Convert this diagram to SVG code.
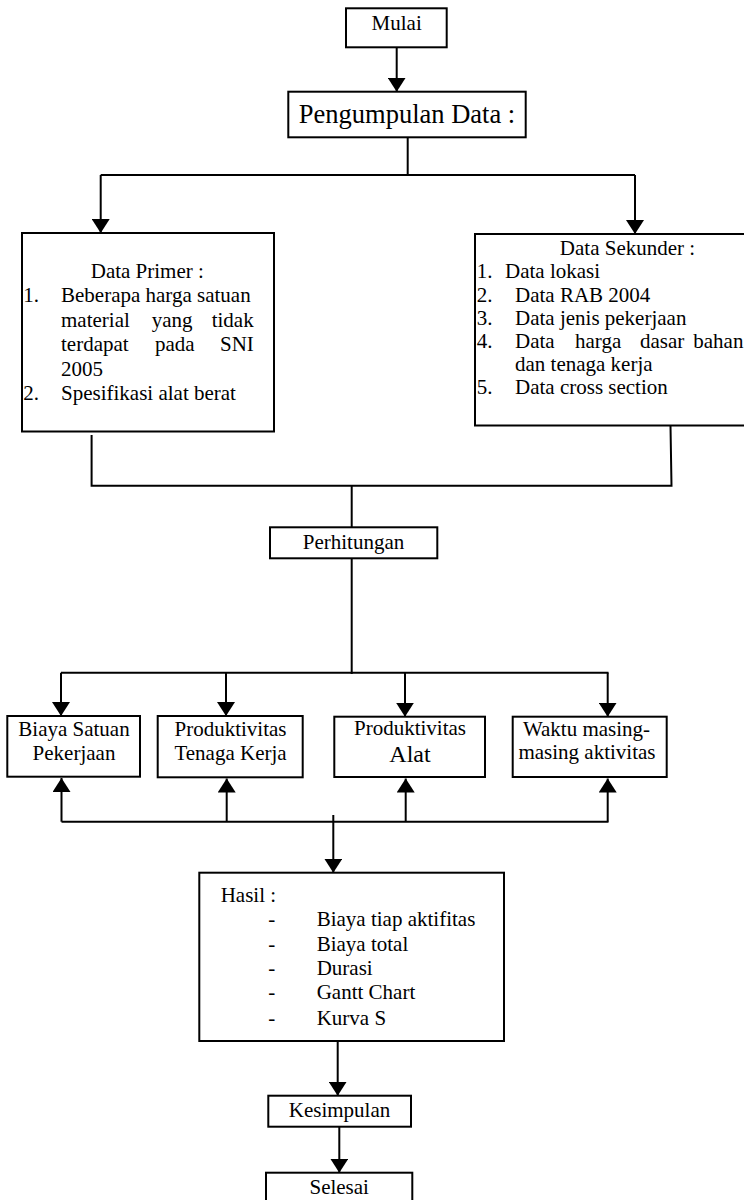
<svg xmlns="http://www.w3.org/2000/svg" width="744" height="1200" viewBox="0 0 744 1200">
<style>
.box{fill:#fff;stroke:#000;stroke-width:2}
.ln{fill:none;stroke:#000;stroke-width:2}
text{font-family:"Liberation Serif","Times New Roman",serif;font-size:21px;fill:#000}
.c{text-anchor:middle}
</style>
<defs>
<marker id="ah" viewBox="0 0 14 18" refX="14" refY="9" markerWidth="14" markerHeight="18" markerUnits="userSpaceOnUse" orient="auto">
<path d="M0,0 L14,9 L0,18 z" fill="#000"/>
</marker>
</defs>
<rect width="744" height="1200" fill="#fff"/>
<g id="connectors">
<path class="ln" d="M396.7,47.3 V91.7" marker-end="url(#ah)"/>
<path class="ln" d="M407.7,137.3 V175"/>
<path class="ln" d="M100.7,175 H635"/>
<path class="ln" d="M100.7,175 V233" marker-end="url(#ah)"/>
<path class="ln" d="M635,175 V234" marker-end="url(#ah)"/>
<path class="ln" d="M91.6,435 V485.7 H671.5 L670.5,426"/>
<path class="ln" d="M351.7,485.7 V527.3"/>
<path class="ln" d="M351.7,558.3 V674"/>
<path class="ln" d="M61,672.7 H608.5"/>
<path class="ln" d="M61,672.7 V716" marker-end="url(#ah)"/>
<path class="ln" d="M226,672.7 V716" marker-end="url(#ah)"/>
<path class="ln" d="M405,672.7 V716.7" marker-end="url(#ah)"/>
<path class="ln" d="M607.7,672.7 V716.7" marker-end="url(#ah)"/>
<path class="ln" d="M61.5,821.7 H608.5"/>
<path class="ln" d="M61.5,821.7 V778" marker-end="url(#ah)"/>
<path class="ln" d="M226.7,821.7 V778.5" marker-end="url(#ah)"/>
<path class="ln" d="M405.7,821.7 V778.5" marker-end="url(#ah)"/>
<path class="ln" d="M607.7,821.7 V778.5" marker-end="url(#ah)"/>
<path class="ln" d="M333.3,815 V872.7" marker-end="url(#ah)"/>
<path class="ln" d="M337.7,1041 V1095.7" marker-end="url(#ah)"/>
<path class="ln" d="M339.3,1126.7 V1172.7" marker-end="url(#ah)"/>
</g>
<g id="mulai">
<rect class="box" x="346" y="8.3" width="100.7" height="39"/>
<text class="c" x="396.7" y="30">Mulai</text>
</g>
<g id="pengumpulan">
<rect class="box" x="288.3" y="91.7" width="237.4" height="45.6"/>
<text class="c" x="407" y="123.3" style="font-size:26.5px">Pengumpulan Data :</text>
</g>
<g id="data-primer">
<rect class="box" x="22" y="233" width="252" height="198.5"/>
<text class="c" x="147.3" y="278.3">Data Primer :</text>
<text x="23.3" y="301.7">1.</text>
<text x="61" y="301.7">Beberapa harga satuan</text>
<text y="326.7"><tspan x="61">material</tspan><tspan x="151.7">yang</tspan><tspan x="211.7">tidak</tspan></text>
<text y="351"><tspan x="61">terdapat</tspan><tspan x="155">pada</tspan><tspan x="220">SNI</tspan></text>
<text x="61" y="375.7">2005</text>
<text x="23.3" y="400">2.</text>
<text x="61" y="400">Spesifikasi alat berat</text>
</g>
<g id="data-sekunder">
<rect class="box" x="475" y="234" width="272" height="191.5"/>
<text class="c" x="627.5" y="255">Data Sekunder :</text>
<text x="476.7" y="278.3">1.</text>
<text x="505" y="278.3">Data lokasi</text>
<text x="476.7" y="301.5">2.</text>
<text x="515" y="301.5">Data RAB 2004</text>
<text x="476.7" y="324.5">3.</text>
<text x="515" y="324.5">Data jenis pekerjaan</text>
<text x="476.7" y="347.5">4.</text>
<text y="347.5"><tspan x="515">Data</tspan><tspan x="575">harga</tspan><tspan x="640">dasar</tspan><tspan x="693.3">bahan</tspan></text>
<text x="515" y="371">dan tenaga kerja</text>
<text x="476.7" y="394">5.</text>
<text x="515" y="394">Data cross section</text>
</g>
<g id="perhitungan">
<rect class="box" x="270" y="527.3" width="167.3" height="31"/>
<text class="c" x="353.5" y="549">Perhitungan</text>
</g>
<g id="biaya-satuan">
<rect class="box" x="7.3" y="716" width="132.7" height="60.7"/>
<text class="c" x="74" y="736">Biaya Satuan</text>
<text class="c" x="74" y="760">Pekerjaan</text>
</g>
<g id="produktivitas-tenaga">
<rect class="box" x="157.7" y="716" width="145" height="61.3"/>
<text class="c" x="230.5" y="736">Produktivitas</text>
<text class="c" x="230.5" y="760">Tenaga Kerja</text>
</g>
<g id="produktivitas-alat">
<rect class="box" x="334.3" y="716.7" width="150.7" height="60.3"/>
<text class="c" x="410" y="735">Produktivitas</text>
<text class="c" x="410" y="762" style="font-size:24px">Alat</text>
</g>
<g id="waktu">
<rect class="box" x="512.7" y="716.7" width="154" height="60.3"/>
<text class="c" x="586.5" y="736">Waktu masing-</text>
<text class="c" x="587" y="759.3">masing aktivitas</text>
</g>
<g id="hasil">
<rect class="box" x="199.3" y="872.7" width="304.7" height="168.3"/>
<text x="220.7" y="902.3">Hasil :</text>
<text x="268.3" y="925.7">-</text><text x="316.7" y="925.7">Biaya tiap aktifitas</text>
<text x="268.3" y="950.7">-</text><text x="316.7" y="950.7">Biaya total</text>
<text x="268.3" y="975">-</text><text x="316.7" y="975">Durasi</text>
<text x="268.3" y="999.3">-</text><text x="316.7" y="999.3">Gantt Chart</text>
<text x="268.3" y="1025">-</text><text x="316.7" y="1025">Kurva S</text>
</g>
<g id="kesimpulan">
<rect class="box" x="268.3" y="1095.7" width="142.7" height="31"/>
<text class="c" x="339.5" y="1117.3">Kesimpulan</text>
</g>
<g id="selesai">
<rect class="box" x="266" y="1172.7" width="146.3" height="36"/>
<text class="c" x="339.2" y="1194">Selesai</text>
</g>
</svg>
